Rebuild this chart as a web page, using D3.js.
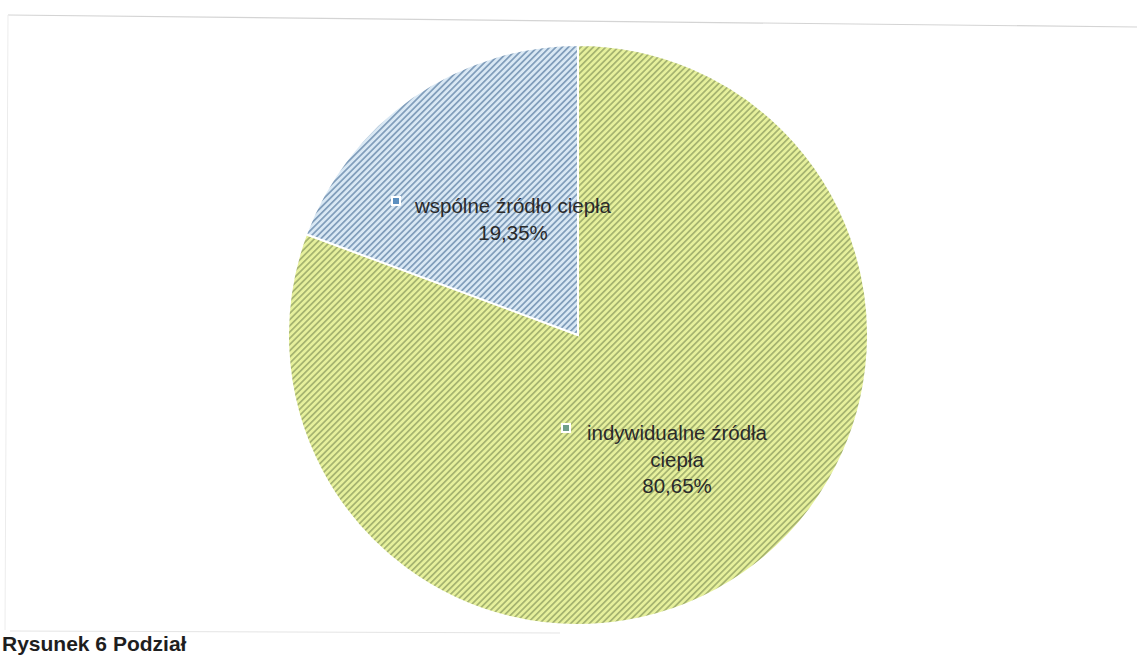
<!DOCTYPE html>
<html>
<head>
<meta charset="utf-8">
<script src="https://cdn.jsdelivr.net/npm/d3@7"></script>
<style>
  body { margin: 0; background: #fff; }
  svg { display: block; }
</style>
</head>
<body>
<svg id="svg0"></svg>
<script>
let categories = ['indywidualne źródła ciepła', 'wspólne źródło ciepła'];
let values = [80.65, 19.35];
let labelLines = [['indywidualne źródła', 'ciepła', '80,65%'], ['wspólne źródło ciepła', '19,35%']];

let width = 1137, height = 656;
let cx = 578, cy = 335, radius = 290;

let svg = d3.select('#svg0').attr('width', width).attr('height', height);

// hatch patterns (scanned look)
let defs = svg.append('defs');
let hatch = [
    {id: 'hatchGreen', light: '#e6f09c', dark: '#a4b26f'},
    {id: 'hatchBlue', light: '#d9e8f4', dark: '#7f9cba'}
];
hatch.forEach(h=>{
    let p = defs.append('pattern').attr('id', h.id).attr('patternUnits', 'userSpaceOnUse')
        .attr('width', 4.4).attr('height', 4.4).attr('patternTransform', 'rotate(45)');
    p.append('rect').attr('width', 4.4).attr('height', 4.4).style('fill', h.light);
    p.append('rect').attr('width', 1.7).attr('height', 4.4).style('fill', h.dark);
});
let colorScale = d3.scaleOrdinal().domain(categories).range(['url(#hatchGreen)', 'url(#hatchBlue)']);

// faint frame remains from the scan
svg.append('line').attr('x1', 8).attr('y1', 15).attr('x2', 1137).attr('y2', 27)
    .style('stroke', '#d4d4d4').style('stroke-width', 1.2);
svg.append('line').attr('x1', 8).attr('y1', 15).attr('x2', 5).attr('y2', 630)
    .style('stroke', '#ececec').style('stroke-width', 1);
svg.append('line').attr('x1', 10).attr('y1', 631).attr('x2', 560).attr('y2', 633)
    .style('stroke', '#e4e4e4').style('stroke-width', 1);

let pie = d3.pie().sort(null).value(d=>{return d;});
let arc = d3.arc().innerRadius(0).outerRadius(radius);

let g = svg.append('g').attr('transform', 'translate(' + cx + ', ' + cy + ')');
g.selectAll('path').data(pie(values)).enter().append('path')
    .attr('d', arc)
    .style('fill', (d, i)=>{return colorScale(categories[i]);})
    .style('stroke', '#ffffff').style('stroke-width', 2);

// data labels
let labelPos = [
    {x: 677, y: 432, mx: 566, my: 428},
    {x: 513, y: 205, mx: 396, my: 201}
];
let markerFill = ['#6f9f8a', '#5b8fc0'];
labelLines.forEach((lines, i)=>{
    let pos = labelPos[i];
    let t = svg.append('text').attr('x', pos.x).attr('y', pos.y)
        .style('font-family', 'Liberation Sans, Arial, sans-serif').style('font-size', '20.5px')
        .style('fill', '#2a2a2a').style('text-anchor', 'middle').style('dominant-baseline', 'central');
    lines.forEach((line, j)=>{
        t.append('tspan').attr('x', pos.x).attr('dy', j == 0 ? 0 : 26.5).text(line);
    });
    svg.append('rect').attr('x', pos.mx - 5).attr('y', pos.my - 5).attr('width', 10).attr('height', 10)
        .style('fill', '#ffffff');
    svg.append('rect').attr('x', pos.mx - 3).attr('y', pos.my - 3).attr('width', 6).attr('height', 6)
        .style('fill', markerFill[i]);
});

// caption at the page edge
svg.append('text').attr('x', 2).attr('y', 651)
    .text('Rysunek 6 Podział')
    .style('font-family', 'Liberation Sans, Arial, sans-serif').style('font-size', '21px')
    .style('font-weight', 'bold').style('fill', '#1e1e1e');
</script>
</body>
</html>
